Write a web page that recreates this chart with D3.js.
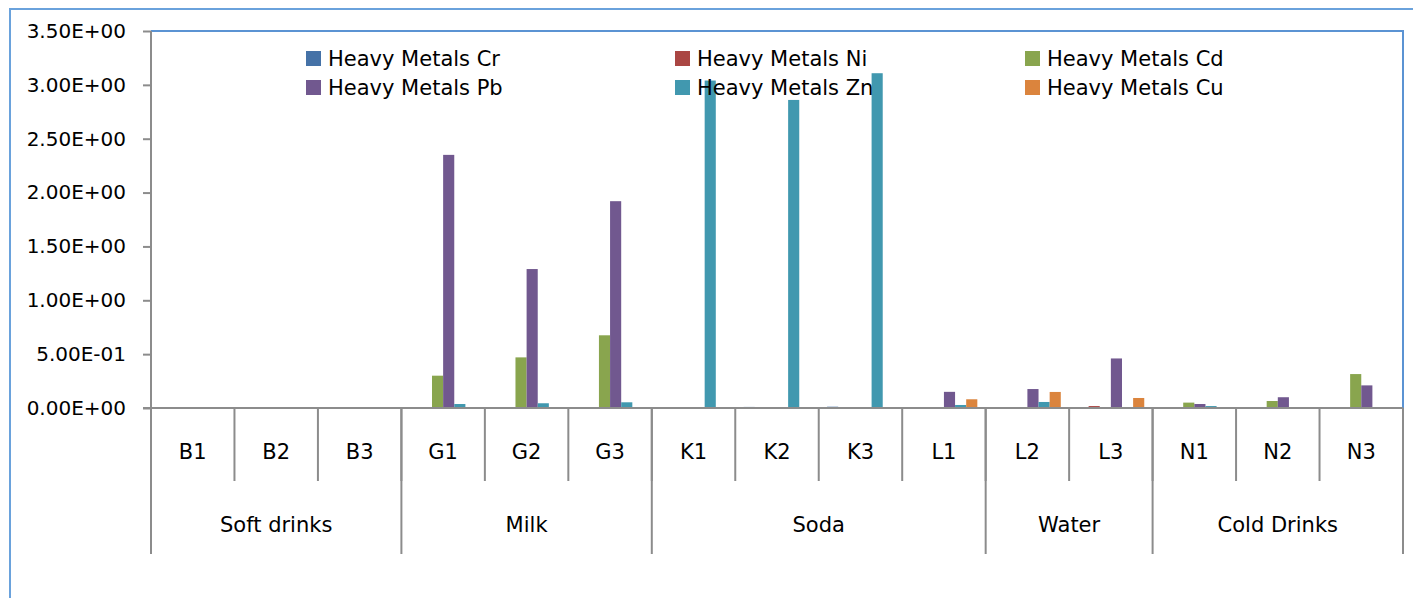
<!DOCTYPE html>
<meta charset="utf-8">
<style>
    body { margin: 0; background: #fff; }
    svg { display: block; font-family: "DejaVu Sans", sans-serif; }
    .axis text { font-size: 20px; fill: #000; }
    .cat, .grp, .leg { font-size: 21px; fill: #000; }
</style>
<svg width="1413" height="598"></svg>
<script src="https://cdnjs.cloudflare.com/ajax/libs/d3/7.8.5/d3.min.js"></script>
<script>

    var svg = d3.select("svg"),
        width = +svg.attr("width"),
        height = +svg.attr("height");

    // sample codes along the x axis, and the product groups beneath them
    var categories = ["B1", "B2", "B3", "G1", "G2", "G3", "K1", "K2", "K3", "L1", "L2", "L3", "N1", "N2", "N3"];
    var groupNames = ["Soft drinks", "Milk", "Soda", "Water", "Cold Drinks"];
    var groupSizes = [3, 3, 4, 2, 3];

    var seriesNames = ["Heavy Metals Cr", "Heavy Metals Ni", "Heavy Metals Cd",
                       "Heavy Metals Pb", "Heavy Metals Zn", "Heavy Metals Cu"];
    var seriesColors = ["#4572A7", "#AA4643", "#89A54E", "#71588F", "#4198AF", "#DB843D"];

    // values (mg/L)
    var crValues = [0.001, 0.001, 0.001, 0.002, 0.002, 0.002, 0.003, 0.010, 0.012, 0.002, 0.002, 0.002, 0.001, 0.001, 0.001];
    var niValues = [0.002, 0.002, 0.002, 0.005, 0.005, 0.005, 0.003, 0.003, 0.005, 0.008, 0.004, 0.018, 0.002, 0.002, 0.002];
    var cdValues = [0.001, 0.001, 0.001, 0.300, 0.470, 0.675, 0.002, 0.002, 0.002, 0.004, 0.005, 0.004, 0.050, 0.065, 0.315];
    var pbValues = [0.001, 0.001, 0.001, 2.350, 1.290, 1.920, 0.001, 0.001, 0.001, 0.150, 0.176, 0.460, 0.037, 0.100, 0.210];
    var znValues = [0.002, 0.002, 0.002, 0.037, 0.044, 0.053, 3.040, 2.860, 3.108, 0.028, 0.056, 0.005, 0.018, 0.004, 0.002];
    var cuValues = [0.001, 0.001, 0.001, 0.001, 0.001, 0.001, 0.001, 0.001, 0.001, 0.081, 0.149, 0.093, 0.008, 0.003, 0.003];
    var seriesValues = [crValues, niValues, cdValues, pbValues, znValues, cuValues];

    var yTicks = [0, 0.5, 1, 1.5, 2, 2.5, 3, 3.5];

    var plotLeft = 151, plotRight = 1403, plotTop = 31, plotBottom = 408;
    var axisColor = "#8c8c8c", borderColor = "#5b93d3";

    var x = d3.scaleBand()
        .domain(categories)
        .range([plotLeft, plotRight]);

    var xs = d3.scaleBand()
        .domain(seriesNames)
        .range([0, x.bandwidth()])
        .paddingOuter(0.75);

    var y = d3.scaleLinear()
        .domain([0, 3.5])
        .range([plotBottom, plotTop]);

    function sci(d) {
        if (d === 0) return "0.00E+00";
        var s = d.toExponential(2).toUpperCase();
        return s.replace(/E([+-])(\d)$/, "E$10$2");
    }

    // outer chart frame
    svg.append("rect")
        .attr("x", 10).attr("y", 9)
        .attr("width", width + 20).attr("height", height + 20)
        .attr("fill", "none")
        .attr("stroke", "#6aa2dc")
        .attr("stroke-width", 2);

    // plot area frame (top and right)
    svg.append("path")
        .attr("d", "M" + plotLeft + "," + plotTop + "H" + plotRight + "V" + plotBottom)
        .attr("fill", "none")
        .attr("stroke", borderColor)
        .attr("stroke-width", 2);

    // bars
    var rows = categories.map(function (c, i) {
        return { cat: c, vals: seriesNames.map(function (s, j) {
            return { key: s, value: seriesValues[j][i], color: seriesColors[j] };
        }) };
    });

    svg.append("g")
        .selectAll("g")
        .data(rows)
        .enter().append("g")
        .attr("transform", function (d) { return "translate(" + x(d.cat) + ",0)"; })
        .selectAll("rect")
        .data(function (d) { return d.vals; })
        .enter().append("rect")
        .attr("x", function (d) { return xs(d.key); })
        .attr("width", xs.bandwidth())
        .attr("y", function (d) { return y(d.value); })
        .attr("height", function (d) { return plotBottom - y(d.value); })
        .attr("fill", function (d) { return d.color; });

    // y axis
    var yAxis = svg.append("g")
        .attr("class", "axis")
        .attr("transform", "translate(" + plotLeft + ",0)")
        .call(d3.axisLeft(y).tickValues(yTicks).tickSize(8).tickPadding(17).tickFormat(sci));
    yAxis.select(".domain").remove();
    yAxis.selectAll("line").attr("stroke", axisColor).attr("stroke-width", 2);
    yAxis.selectAll("text").attr("font-family", "DejaVu Sans");

    // category axis: baseline, dividers and two rows of labels
    svg.append("line")
        .attr("x1", plotLeft - 8).attr("x2", plotRight)
        .attr("y1", plotBottom).attr("y2", plotBottom)
        .attr("stroke", axisColor).attr("stroke-width", 2);

    svg.append("line")
        .attr("x1", plotLeft).attr("x2", plotLeft)
        .attr("y1", plotTop).attr("y2", plotBottom)
        .attr("stroke", axisColor).attr("stroke-width", 2);

    svg.append("g")
        .selectAll("line")
        .data(categories)
        .enter().append("line")
        .attr("x1", function (d) { return x(d) + x.bandwidth(); })
        .attr("x2", function (d) { return x(d) + x.bandwidth(); })
        .attr("y1", plotBottom).attr("y2", 481)
        .attr("stroke", axisColor).attr("stroke-width", 2);

    svg.append("g")
        .selectAll("text")
        .data(categories)
        .enter().append("text")
        .attr("class", "cat")
        .attr("x", function (d) { return x(d) + x.bandwidth() / 2; })
        .attr("y", 459)
        .attr("text-anchor", "middle")
        .text(function (d) { return d; });

    var groups = [], start = 0;
    groupNames.forEach(function (g, i) {
        var first = categories[start], last = categories[start + groupSizes[i] - 1];
        groups.push({ name: g, x0: x(first), x1: x(last) + x.bandwidth() });
        start += groupSizes[i];
    });

    var grp = svg.append("g");
    grp.selectAll("line")
        .data([{ x1: plotLeft }].concat(groups))
        .enter().append("line")
        .attr("x1", function (d) { return d.x1; })
        .attr("x2", function (d) { return d.x1; })
        .attr("y1", plotBottom).attr("y2", 554)
        .attr("stroke", axisColor).attr("stroke-width", 2);

    grp.selectAll("text")
        .data(groups)
        .enter().append("text")
        .attr("class", "grp")
        .attr("x", function (d) { return (d.x0 + d.x1) / 2; })
        .attr("y", 532)
        .attr("text-anchor", "middle")
        .text(function (d) { return d.name; });

    // legend: three columns, two rows
    var legX = [306, 675, 1025], legY = [51, 80];
    var leg = svg.append("g")
        .selectAll("g")
        .data(seriesNames)
        .enter().append("g")
        .attr("transform", function (d, i) {
            return "translate(" + legX[i % 3] + "," + legY[Math.floor(i / 3)] + ")";
        });
    leg.append("rect")
        .attr("width", 15).attr("height", 15)
        .attr("fill", function (d, i) { return seriesColors[i]; });
    leg.append("text")
        .attr("class", "leg")
        .attr("x", 22)
        .attr("y", 15)
        .text(function (d) { return d; });

</script>
